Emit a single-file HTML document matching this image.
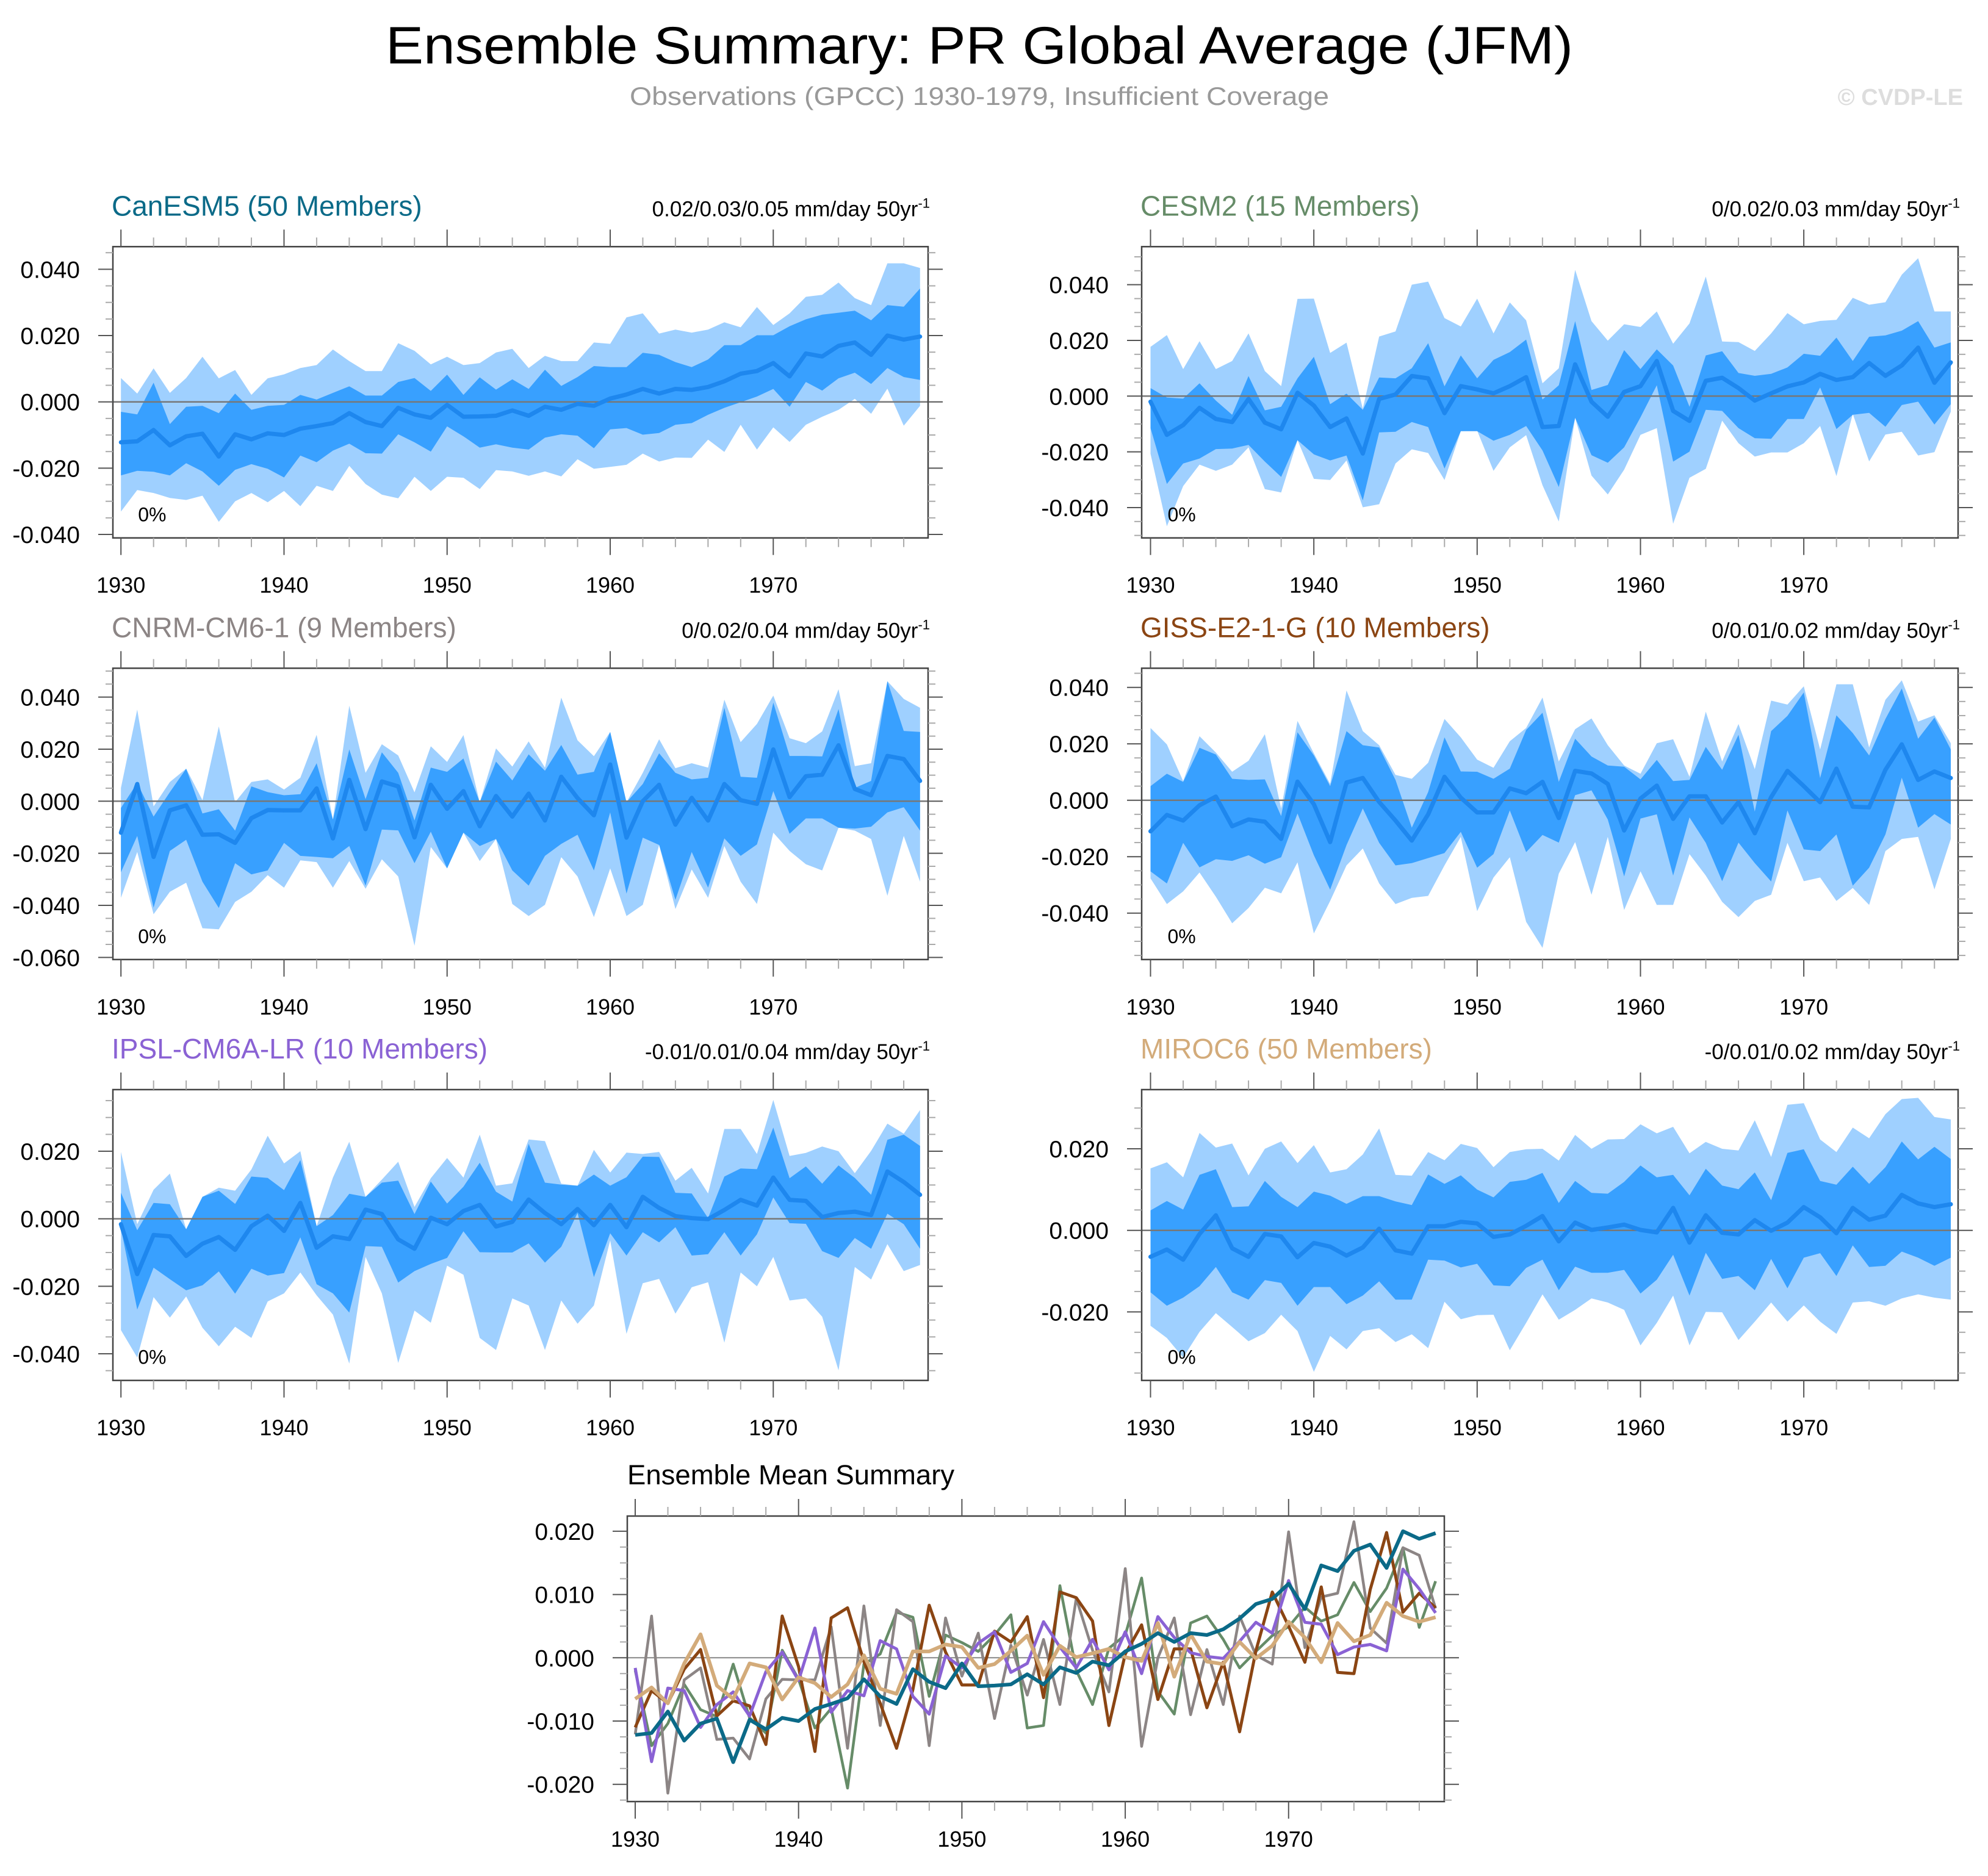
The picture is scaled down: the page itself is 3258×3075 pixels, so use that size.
<!DOCTYPE html>
<html><head><meta charset="utf-8"><title>Ensemble Summary: PR Global Average (JFM)</title>
<style>
html,body{margin:0;padding:0;background:#fff;}
svg{display:block;font-family:"Liberation Sans",Arial,sans-serif;}
</style></head>
<body>
<svg id="chart" xmlns="http://www.w3.org/2000/svg" width="3258" height="3075" viewBox="0 0 3258 3075">
<rect x="0" y="0" width="3258" height="3075" fill="#fff"/>
<text x="1605" y="104" font-size="86" text-anchor="middle" fill="#000" textLength="1946" lengthAdjust="spacingAndGlyphs">Ensemble Summary: PR Global Average (JFM)</text>
<text x="1605" y="172" font-size="42" text-anchor="middle" fill="#999" textLength="1146" lengthAdjust="spacingAndGlyphs">Observations (GPCC) 1930-1979, Insufficient Coverage</text>
<text x="3217" y="172" font-size="38" font-weight="bold" text-anchor="end" fill="#ddd">© CVDP-LE</text>
</svg>
<script>
// Values in units of 0.001 mm/day
const years = [1930,1931,1932,1933,1934,1935,1936,1937,1938,1939,1940,1941,1942,1943,1944,1945,1946,1947,1948,1949,1950,1951,1952,1953,1954,1955,1956,1957,1958,1959,1960,1961,1962,1963,1964,1965,1966,1967,1968,1969,1970,1971,1972,1973,1974,1975,1976,1977,1978,1979];
const xTickLabels = ["1930","1940","1950","1960","1970"];

const p1Max = [7.2,2.5,10.1,2.7,7.2,13.6,7.1,9.6,2.1,7.1,8.3,10.2,11.1,15.8,12.3,9.3,9.3,17.7,15.4,11.3,13.6,11.1,11.7,14.9,16,10.2,13.9,12.3,12.3,17.9,17.5,25.5,26.7,20.6,21.8,20.9,21.8,24,22.5,28.6,23.2,26.7,31.7,32.3,36,31.3,29.2,41.8,41.8,40.4];
const p1Hi = [-3,-3.8,5.8,-6.7,-1.5,-1.2,-3.4,2.5,-2.4,-1.2,-0.9,2.1,0.7,2.7,4.7,1.9,1.9,6,7.2,3.3,8.2,2.1,7.4,3.7,6.8,3.9,9.7,4.8,7.5,10.8,10.5,10.5,14.8,14.2,12,10.5,12.8,17.1,17.1,20.1,20.1,22.8,24.9,26.3,26.9,27.5,24.6,29.2,28.7,34.2];
const p1Mean = [-12.2,-11.9,-8.5,-13.1,-10.4,-9.6,-16.5,-9.8,-11.3,-9.5,-10,-8.1,-7.3,-6.4,-3.4,-6.1,-7.3,-1.8,-3.8,-4.8,-0.9,-4.5,-4.4,-4.2,-2.6,-4.2,-1.5,-2.4,-0.6,-1.2,1,2.2,3.9,2.5,3.9,3.6,4.5,6.2,8.5,9.3,11.7,7.7,14.6,13.7,16.9,17.9,14.2,20,18.8,19.7];
const p1Lo = [-22.2,-20.8,-21.1,-22.2,-18.5,-21,-25.3,-20.5,-18.8,-20.2,-22.8,-16.2,-18.2,-14.7,-12.6,-15.5,-15.6,-9.8,-12.2,-15,-7.4,-10.4,-13.8,-12.8,-13.8,-14.4,-10.8,-9.8,-10.2,-14,-8.3,-7.9,-9.9,-9.4,-6.9,-6.4,-3.9,-1.8,-0.1,1.6,3.9,-1.5,6,3.4,7.1,8.8,5.4,10.2,7.5,6.6];
const p1Min = [-33.1,-26.6,-27.5,-29,-29.6,-28.3,-36.2,-30,-27.5,-30.3,-26.9,-31.5,-25.3,-26.9,-19.3,-24.8,-28,-29.1,-22.6,-26.9,-22.6,-22.9,-26.3,-20.6,-21,-22.3,-21,-22.5,-17.3,-20.2,-19.6,-19,-15.6,-18,-16.8,-16.9,-11.4,-15.1,-6.9,-14.4,-7.7,-12.1,-6.9,-4.5,-2.4,0.9,-3.6,4,-7.2,-1.2];

const p2Max = [17.7,21.9,9.7,19.7,9.7,12.6,22.5,9,3.6,34.9,35,15.5,19.2,-4.5,21.4,23.2,40,41.1,28,25,35,22.5,33.6,27.2,4.6,10,45.3,26.9,19.9,25.8,24.8,30.4,18.8,26.1,42.9,19.6,19.4,16.2,22.5,29.8,25.8,27,27.4,35.3,32.8,33.7,43.6,49.5,30.4,30.4];
const p2Hi = [2.9,-0.5,-0.9,4.6,-1.6,-6.7,7.2,-5.1,-3.8,6.4,14.1,-2.9,0.9,-4.9,6.7,6.4,10,19,3.5,14.6,6.4,13,15.8,20.3,-1.2,3.9,26.9,2.2,4,16.5,9.7,16.8,11,-3.8,14.6,16.1,8.3,7.3,8,10.3,15.2,14.5,21,12.6,21.3,21.8,23.5,26.9,17.4,19.3];
const p2Mean = [-2,-13.9,-10.4,-4.2,-8.2,-9.3,-1,-9.5,-11.9,1.2,-3.4,-11.1,-8,-20.6,-1,0.6,7.2,6.4,-6.1,3.6,2.4,1,3.6,6.8,-11.1,-10.7,11.4,-2,-7.4,1.5,3.6,12.6,-5.3,-8.9,5.5,6.6,2.9,-1.6,1,3.5,4.9,8,5.8,6.8,11.9,7.3,11,17.4,4.8,12.1];
const p2Lo = [-11.5,-31.5,-24.2,-22.4,-19,-18.8,-17.5,-23.5,-29,-15.8,-20.9,-23.1,-21.3,-37.4,-13,-12.8,-9.3,-11.1,-26,-12.6,-12.6,-16,-13.9,-10.7,-19.5,-32.6,-7.8,-21.2,-23.9,-18.4,-7.6,3.9,-23.5,-19.9,-4.9,-5.3,-11.5,-15.1,-15.3,-8.2,-8.2,3.1,-11.8,-6.7,-6,-11,-3.2,-2,-10.2,-2.9];
const p2Min = [-20.7,-46.7,-32.3,-24.6,-26.8,-24.6,-18.4,-33.4,-34.6,-15.8,-29.7,-30.1,-23.1,-39.9,-38.8,-24.2,-19.1,-20.4,-30.1,-12.6,-12.4,-26.8,-18.4,-14,-32,-45,-7.8,-28.5,-35.3,-26.4,-13.9,-11.5,-45.8,-29.3,-26.1,-8.8,-16.9,-21.7,-20.2,-20.2,-16.9,-10.7,-28.7,-6.4,-23.4,-13.8,-12.8,-21.3,-20.1,-5.6];

const p3Max = [5.1,35.2,-2,7.4,12.5,0.4,28.7,-0.4,7.4,8.4,4.5,9,25.5,-7,36.7,10.9,21.9,17.6,3.4,21.1,15.1,25.4,-0.4,20.3,13.3,23,12.9,39.8,23.4,17.3,26.6,-0.4,10.9,23.8,12.7,14.6,12.9,39,22.7,29.7,40.6,24.2,22.3,26.8,43,13.5,14.6,46.1,39.3,35.9];
const p3Hi = [-2.6,7,-5.9,3.5,12.5,-4.7,-3.1,-11.3,5.7,3.5,2.3,2.7,14.6,-7,19.9,0.8,18.8,10.9,-7.4,12.9,11.3,16.4,-0.4,15.2,8,18,11.7,21.6,10.2,11.3,26.6,-0.4,6.6,18.4,10.9,8.4,9,35.9,9.4,9,37.9,17.4,17.4,17.2,35.4,5.1,7.8,46.1,27,26.6];
const p3Mean = [-12.1,6.6,-21.4,-3.5,-1.6,-12.9,-12.7,-16,-6.5,-3.4,-3.5,-3.5,4.9,-14.3,8.2,-10.7,7.6,5.7,-13.9,6.3,-2.9,3.9,-9.6,2,-5.9,2.9,-7.4,9.4,1.2,-5.4,14.1,-14,0,6.3,-9,1.3,-7.4,6.6,0.4,-1,19.9,1.6,9.6,10.2,21.5,4.7,2.3,17.4,16.2,7.8];
const p3Lo = [-27.3,-13.3,-40.9,-19.1,-14.8,-30.9,-41,-23.8,-28.1,-26.6,-16,-21,-21.4,-21.9,-17.2,-32.4,-10.9,-11.2,-23.8,-11.7,-25.8,-12.1,-17.2,-14.5,-26.6,-32.4,-21,-16.4,-12.9,-26.6,-4.3,-35.5,-14,-16.8,-37.9,-19.5,-33.2,-14.3,-21,-16.6,3.9,-12.5,-6.6,-6.6,-10.2,-10.5,-9.8,-4.3,-2.3,-11.3];
const p3Min = [-37.1,-19.5,-43.4,-34.8,-31.3,-48.8,-49.2,-38.7,-34.8,-28.4,-33.2,-22.7,-23.4,-33.2,-23,-33.6,-22.3,-28.9,-55.5,-17.6,-25.8,-12.1,-23,-14.5,-39.5,-44.1,-39.8,-21.5,-28.9,-44.5,-25.8,-44.1,-39.8,-16.8,-41.4,-26.2,-37.1,-17.2,-30.9,-39.5,-12.1,-19.1,-24.2,-26.6,-10.2,-11.3,-14.5,-36.3,-13.3,-30.9];

const p4Max = [25.6,19.8,6.8,22.7,16.9,10.1,14,23.4,-2.9,28.1,16.6,5.8,38.9,24.5,19.5,9,7.6,13.3,28.8,22.3,14.4,11.5,20.9,25.6,36.4,13.7,25.2,29,19.5,12.3,9.4,20.2,21.6,8.3,31.4,13.7,27,11,35.3,33.9,40.4,18,41.1,41.1,18.7,35.6,42.5,27.9,30.1,20.2];
const p4Hi = [5,9.4,6.5,18.6,16.2,7.6,7.2,7.4,-5.6,24.1,15.9,5,24.5,19.5,18.7,7.2,-9.7,2.9,22.3,10.2,10.1,7.6,11.2,24.9,31,6.5,21.8,15.5,12.3,11.9,7.4,14.3,6.8,7.2,18.9,10.8,23.2,-4,24.5,29.9,38.2,7.9,30.1,23.8,15.9,28.8,39.6,21.8,29.3,18];
const p4Mean = [-11,-5.2,-7.2,-1.8,1.3,-9.2,-6.8,-7.6,-13.7,6.6,-1.4,-14.8,6.3,7.9,-0.6,-7.2,-14.3,-5,8.3,0.9,-4.3,-4.3,4.2,2.5,6.5,-6.3,10.4,9.5,5.8,-10.7,0.6,5.2,-6.6,1.4,1.4,-7.9,-0.7,-11.7,1.1,10.4,5,-0.7,11.2,-2.3,-2.5,10.8,19.8,7.2,10.2,7.9];
const p4Lo = [-25.2,-29.5,-15.1,-23.8,-20.9,-21.5,-19.5,-22.5,-20.2,-4.7,-19.5,-31.7,-15.9,-2.9,-15.1,-23.1,-22.3,-20.5,-18.7,-11.2,-23.9,-19.1,-3.6,-18.4,-12.3,-15,1.8,3.5,-6.8,-27,-6.5,-5,-26.7,-6.1,-15.1,-28.7,-15,-22.3,-28.8,-3.6,-17.4,-18,-12.1,-30.3,-23.9,-12.1,8,-9.7,-4.9,-8.6];
const p4Min = [-27.7,-36.8,-32.3,-25.6,-34.2,-43.6,-38.2,-31,-33,-22,-47.2,-35.7,-23.1,-17.1,-29.5,-36.8,-34.6,-33.9,-23.1,-13,-39.3,-27.4,-20.2,-43.1,-52.3,-26,-14.8,-33.5,-13,-38.9,-25.2,-37.1,-37.1,-19.1,-26.7,-36,-41.4,-35.7,-33.5,-15.1,-28.7,-27.4,-35.7,-31.1,-37.1,-18,-13.7,-13,-31.6,-13.7];

const p5Max = [19.8,-1.6,8.6,13.4,-3.1,6.5,9.2,8.3,14.6,24.6,16.4,20,-2.2,12.2,22.8,6.5,11.6,16.9,3.5,12,18,12.2,24.9,9.8,10.5,23.5,23,10.4,9.8,20.4,13.7,19.6,19.2,19.8,11.3,15.1,7.5,26.6,26.6,19.2,35.2,18.6,19.5,21.4,20,13.5,20.1,28.2,25.2,32.2];
const p5Hi = [7.7,-3.4,4.7,4.3,-3.1,6.5,8.3,4.4,12.5,12.1,8.5,17.4,-2.2,1.1,7.4,6.5,10.7,11.3,1.4,11,4.5,9.5,16.6,8,5.1,22.2,10.7,10.1,9.8,13.1,9.8,12.3,18.4,18.3,7.7,7.5,0.2,12.5,14.9,14.7,27,12,15.5,10.4,15.8,12.1,7.1,23.4,24.9,21.6];
const p5Mean = [-1.6,-16.4,-4.8,-5.2,-11,-7.4,-5.4,-9.2,-2.2,0.9,-3.6,4.7,-8.6,-5.2,-6,2.7,1.4,-6.1,-8.9,0.3,-1.6,2.3,4.1,-2.3,-0.9,5.7,1.7,-1.6,2.9,-1.9,4.1,-2.5,6.5,3.2,0.8,0.2,-0.1,2.6,5.6,3.9,12.2,5.6,5.3,0.5,1.7,2.1,1.1,14,10.9,7.1];
const p5Lo = [-2.8,-26.9,-14.5,-17.9,-21.2,-19.7,-15.6,-22.2,-14.8,-16.8,-16.1,-5.5,-19.4,-22.1,-27.8,-8.1,-8.3,-18.9,-15.5,-13.4,-11.6,-3.7,-9.9,-10,-10,-7.3,-13,-8.3,1.7,-17.3,-4.3,-10.9,-4,-7,-2.5,-10.9,-10.5,-4,-10.9,-4.6,6.3,-1.3,-1.5,-9.6,-11.6,-5.7,-8.9,1.5,-1.6,-8.9];
const p5Min = [-33,-41.1,-23.2,-29.3,-23,-32.3,-37.8,-32,-35.3,-24.5,-22.1,-15.9,-22.7,-28.4,-42.9,-11.3,-22.1,-42.7,-27.2,-30.8,-13.9,-16.6,-35.3,-38.9,-23.6,-25.7,-38.9,-24.2,-31.1,-25.7,-6.4,-34.1,-19.1,-17.8,-28.1,-20.3,-18.8,-36.7,-15.9,-20,-11.3,-24.2,-23.6,-29,-44.9,-14.3,-18,-7.5,-15.5,-13.7];

const p6Max = [15.2,16.7,13,23.9,20.3,21.3,13.5,20,21.8,16.5,20.9,14.2,15,18.6,25,13.6,13.4,19.2,17.2,21.2,20.2,15.5,19.2,19.9,20,17.1,23.4,20,22.3,22.4,26,23.8,25.4,18.9,21.7,20,19.6,27,18,30.8,31.2,22.3,19.2,25.2,22.6,28.5,32.2,32.5,27.8,27.2];
const p6Hi = [4.9,7.2,5.1,13.6,15,5.7,5.9,12.1,8.2,5.7,9.5,8.5,6.5,8.4,8.4,7.1,6.2,13.7,11.4,13.5,10,8.1,11.9,12.4,14.1,6.7,12.1,9.2,9,11.9,15.9,13,13.6,8.6,15.1,11,10.1,14.2,7.4,19,19.9,12.1,11.2,15.6,11.4,15.5,21.8,17.4,20.5,17.5];
const p6Mean = [-6.5,-4.7,-7.2,-0.9,3.7,-4.4,-6.5,-0.9,-1.5,-6.6,-3.1,-4,-6.2,-4.2,0.4,-4.9,-5.7,1,1,2.1,1.7,-1.6,-1,1.1,3.5,-2.7,1.9,0.1,0.7,1.4,0.1,-0.5,5.5,-3,3.7,-0.6,-1,2.5,-0.1,1.9,5.7,3.2,-0.7,5.5,2.6,3.6,8.7,6.6,5.7,6.4];
const p6Lo = [-15.2,-18.5,-16.5,-13.7,-9,-15.2,-17,-12.2,-12.9,-18.5,-13.9,-13.9,-18.1,-16,-12.5,-17,-17,-7.2,-7.4,-9.1,-8.2,-13.5,-13.7,-9.2,-7.2,-14.7,-8.9,-10.4,-10.4,-9.7,-15.5,-12.1,-6,-16,-5.5,-11.9,-11.2,-14.7,-7,-14.2,-6.7,-5.6,-11.2,-3.7,-9,-8.7,-5.2,-6.7,-8.7,-6.7];
const p6Min = [-23.4,-26.4,-31.2,-24.9,-20.3,-23.7,-27.2,-25.2,-20.7,-24.7,-34.7,-25.9,-29.2,-24.7,-24,-27.4,-25.5,-28.9,-17.5,-21.8,-20.8,-20.7,-29.4,-22.7,-15.7,-21.9,-19.5,-16.7,-17.7,-19.5,-28.2,-22.7,-16,-28.2,-20,-20.1,-26.9,-22.4,-17.7,-22.4,-18.4,-22.4,-25.4,-17.7,-17.4,-18.5,-16.7,-15.7,-16.5,-17];

const panelTitles = ["CanESM5 (50 Members)","CESM2 (15 Members)","CNRM-CM6-1 (9 Members)","GISS-E2-1-G (10 Members)","IPSL-CM6A-LR (10 Members)","MIROC6 (50 Members)"];
const trendLabels = ["0.02/0.03/0.05","0/0.02/0.03","0/0.02/0.04","0/0.01/0.02","-0.01/0.01/0.04","-0/0.01/0.02"];
const p1Ticks = [40,20,0,-20,-40];
const p2Ticks = [40,20,0,-20,-40];
const p3Ticks = [40,20,0,-20,-40,-60];
const p4Ticks = [40,20,0,-20,-40];
const p5Ticks = [20,0,-20,-40];
const p6Ticks = [20,0,-20];
const summaryTicks = [20,10,0,-10,-20];

const NS = "http://www.w3.org/2000/svg";
const svg = document.getElementById("chart");
function mk(tag, attrs, parent) {
  const e = document.createElementNS(NS, tag);
  for (const k in attrs) e.setAttribute(k, attrs[k]);
  (parent || svg).appendChild(e);
  return e;
}
const modelColors = ["#0b6a88","#668c68","#8c8585","#8b4513","#8a62d4","#d3ab7a"];

const L = [185, 1871], R = [1521, 3209], X0 = [198.2, 1885.5], X1 = [1507.8, 3197];
const rowsTop = [404.3, 1095.3, 1786], rowsBot = [881.7, 1572.8, 2262.7];
const zeros = [658.7, 649.3, 1313.3, 1311.7, 1997.7, 2016.7];
const ks = [5.433, 4.567, 4.267, 4.625, 5.533, 6.683];
const panelData = [
  [p1Min,p1Lo,p1Mean,p1Hi,p1Max,p1Ticks],
  [p2Min,p2Lo,p2Mean,p2Hi,p2Max,p2Ticks],
  [p3Min,p3Lo,p3Mean,p3Hi,p3Max,p3Ticks],
  [p4Min,p4Lo,p4Mean,p4Hi,p4Max,p4Ticks],
  [p5Min,p5Lo,p5Mean,p5Hi,p5Max,p5Ticks],
  [p6Min,p6Lo,p6Mean,p6Hi,p6Max,p6Ticks]
];

function fmt(t, digits) { const v = t/1000; return v.toFixed(digits); }

function drawAxes(g, cfg, ticks, tickStep, minorStep, digits) {
  const {left,right,top,bottom,xS,yS} = cfg;
  for (let yr = 1930; yr <= 1979; yr += 2) {
    const x = xS(yr), major = (yr % 10 === 0);
    const len = major ? 28 : 15;
    const t1 = mk("line",{x1:x,x2:x,y1:bottom,y2:bottom+len,stroke:major?"#555":"#aaa","stroke-width":2},g);
    
    
    const t2 = mk("line",{x1:x,x2:x,y1:top,y2:top-len,stroke:major?"#555":"#aaa","stroke-width":2},g);
    
    
  }
  xTickLabels.forEach(lbl => {
    const tx = mk("text",{x:xS(+lbl),y:cfg.xLabelY,"font-size":36,"text-anchor":"middle",fill:"#000"},g);
    tx.textContent = lbl;
    
    
  });
  const vmax = ticks[0], vmin = ticks[ticks.length-1];
  for (let v = vmin - tickStep; v <= vmax + tickStep + 0.01; v += minorStep) {
    const y = yS(v);
    if (y < top - 0.5 || y > bottom + 0.5) continue;
    const isMajor = ticks.some(t => Math.abs(t - v) < 0.01);
    const len = isMajor ? 24 : 12;
    const a = mk("line",{x1:left-len,x2:left,y1:y,y2:y,stroke:isMajor?"#555":"#aaa","stroke-width":2},g);
    
    
    const b = mk("line",{x1:right,x2:right+len,y1:y,y2:y,stroke:isMajor?"#555":"#aaa","stroke-width":2},g);
    
    
  }
  ticks.forEach(t => {
    const tx = mk("text",{x:left-54,y:yS(t)+14,"font-size":39,"text-anchor":"end",fill:"#000"},g);
    tx.textContent = fmt(t, digits);
    
    
  });
}

function pts(xs, ys, xS, yS) { return xs.map((yr,i)=>xS(yr).toFixed(1)+","+yS(ys[i]).toFixed(1)); }

for (let p = 0; p < 6; p++) {
  const col = p % 2, row = Math.floor(p / 2);
  const left = L[col], right = R[col], top = rowsTop[row], bottom = rowsBot[row];
  const x0 = X0[col], x1 = X1[col], z = zeros[p], k = ks[p];
  const xS = yr => x0 + (yr - 1930) * (x1 - x0) / 49;
  const yS = v => z - v * k;
  const [mn, lo, mean, hi, mx, ticks] = panelData[p];
  const g = mk("g",{});
  
  

  const light = mk("polygon",{points: pts(years,mx,xS,yS).concat(pts(years,mn,xS,yS).reverse()).join(" "), fill:"#9fd0ff"},g);
  
  
  const dark = mk("polygon",{points: pts(years,hi,xS,yS).concat(pts(years,lo,xS,yS).reverse()).join(" "), fill:"#38a0ff"},g);
  
  
  const zl = mk("line",{x1:left,x2:right,y1:yS(0),y2:yS(0),stroke:"#777","stroke-width":2.5},g);
  
  
  const ml = mk("polyline",{points: pts(years,mean,xS,yS).join(" "), fill:"none", stroke:"#1e87ee","stroke-width":7,"stroke-linejoin":"round","stroke-linecap":"round"},g);
  
  
  const box = mk("rect",{x:left,y:top,width:right-left,height:bottom-top,fill:"none",stroke:"#444","stroke-width":2.5},g);
  
  

  drawAxes(g,{left,right,top,bottom,xS,yS,xLabelY:bottom+90},ticks,20,5,3);

  const tt = mk("text",{x:left-2,y:top-51,"font-size":46,fill:modelColors[p]},g);
  tt.textContent = panelTitles[p];
  
  
  const tr = mk("text",{x:right+3,y:top-50,"font-size":35,"text-anchor":"end",fill:"#000"},g);
  tr.textContent = trendLabels[p] + " mm/day 50yr";
  const sup = mk("tspan",{"font-size":22,dy:-14},tr);
  sup.textContent = "-1";
  
  
  const pc = mk("text",{x:x0+28,y:bottom-27,"font-size":32,fill:"#000"},g);
  pc.textContent = "0%";
  
  
}

// Ensemble mean summary
(function(){
  const left = 1028, right = 2367, top = 2485, bottom = 2953;
  const x0 = 1041, x1 = 2352.7, z = 2717.3, k = 10.37;
  const xS = yr => x0 + (yr - 1930) * (x1 - x0) / 49;
  const yS = v => z - v * k;
  const g = mk("g",{});
  
  
  const zl = mk("line",{x1:left,x2:right,y1:yS(0),y2:yS(0),stroke:"#888","stroke-width":2},g);
  
  
  const means = [p1Mean,p2Mean,p3Mean,p4Mean,p5Mean,p6Mean];
  const widths = [6,4.5,4.5,5,5,6];
  const order = [1,2,3,4,5,0];
  order.forEach(i => {
    const ln = mk("polyline",{points: pts(years,means[i],xS,yS).join(" "), fill:"none", stroke:modelColors[i],"stroke-width":widths[i],"stroke-linejoin":"round"},g);
    
    
  });
  const box = mk("rect",{x:left,y:top,width:right-left,height:bottom-top,fill:"none",stroke:"#444","stroke-width":2.5},g);
  
  
  drawAxes(g,{left,right,top,bottom,xS,yS,xLabelY:bottom+74},summaryTicks,10,2.5,3);
  const tt = mk("text",{x:left,y:2433,"font-size":45.5,fill:"#000"},g);
  tt.textContent = "Ensemble Mean Summary";
  
  
})();
</script>
</body></html>
